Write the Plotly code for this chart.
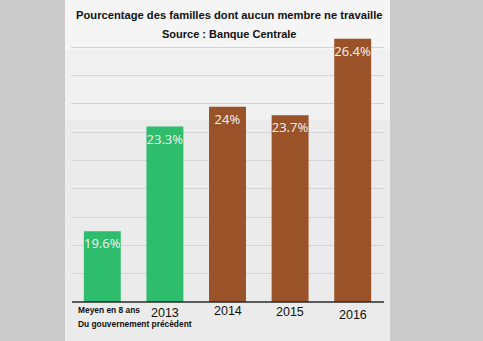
import plotly.graph_objects as go

categories = ["Meyen", "2013", "2014", "2015", "2016"]
values = [19.6, 23.3, 24.0, 23.7, 26.4]
labels = ["19.6%", "23.3%", "24%", "23.7%", "26.4%"]
colors = ["#2dbd6c", "#2dbd6c", "#9a5328", "#9a5328", "#9a5328"]
base_value = 17.1
title_line1 = "Pourcentage des familles dont aucun membre ne travaille"
title_line2 = "Source : Banque Centrale"
first_label = ["Meyen en 8 ans", "Du gouvernement précèdent"]
year_labels = ["2013", "2014", "2015", "2016"]
year_label_offsets = [11, 9, 10, 13]

fig = go.Figure()
fig.add_trace(go.Bar(
    x=categories,
    y=[v - base_value for v in values],
    base=base_value,
    marker=dict(color=colors, line=dict(width=0)),
    text=labels,
    textposition="inside",
    insidetextanchor="end",
    textangle=0,
    textfont=dict(family="Open Sans, Liberation Sans, sans-serif", size=13, color="#f4f4f4"),
    cliponaxis=False,
    hoverinfo="skip",
))

W, H = 483, 341
L, R, T, B = 71, 99, 30, 39
pw, ph = W - L - R, H - T - B

def px_x(p):
    return (p - L) / pw

def px_y(p):
    return (H - B - p) / ph

shapes = [
    dict(type="rect", xref="paper", yref="paper", x0=px_x(65), x1=px_x(390),
         y0=px_y(341), y1=px_y(0), fillcolor="#ebebeb", line=dict(width=0), layer="below"),
    dict(type="rect", xref="paper", yref="paper", x0=px_x(65), x1=px_x(390),
         y0=px_y(120), y1=px_y(0), fillcolor="#f0f0f0", line=dict(width=0), layer="below"),
    dict(type="rect", xref="paper", yref="paper", x0=px_x(65), x1=px_x(390),
         y0=px_y(50), y1=px_y(0), fillcolor="#f5f5f5", line=dict(width=0), layer="below"),
    dict(type="line", xref="paper", yref="paper", x0=px_x(72), x1=px_x(384),
         y0=0, y1=0, line=dict(color="#2a2a2a", width=1.5)),
]

annotations = [
    dict(text="<b>" + title_line1 + "</b>", xref="paper", yref="paper",
         x=px_x(229), y=px_y(15), showarrow=False, xanchor="center", yanchor="middle",
         font=dict(family="Liberation Sans, Arial, sans-serif", size=11.2, color="#111")),
    dict(text="<b>" + title_line2 + "</b>", xref="paper", yref="paper",
         x=px_x(229), y=px_y(34), showarrow=False, xanchor="center", yanchor="middle",
         font=dict(family="Liberation Sans, Arial, sans-serif", size=11, color="#111")),
    dict(text="<b>" + first_label[0] + "</b>", xref="paper", yref="paper",
         x=px_x(76), y=px_y(310), showarrow=False, xanchor="left", yanchor="middle",
         font=dict(family="Liberation Sans, Arial, sans-serif", size=8.4, color="#111")),
    dict(text="<b>" + first_label[1] + "</b>", xref="paper", yref="paper",
         x=px_x(76), y=px_y(324), showarrow=False, xanchor="left", yanchor="middle",
         font=dict(family="Liberation Sans, Arial, sans-serif", size=8.4, color="#111")),
]
for cat, off in zip(year_labels, year_label_offsets):
    annotations.append(dict(
        text=cat, xref="x", yref="paper", x=categories.index(cat), y=px_y(302 + off),
        showarrow=False, xanchor="center", yanchor="middle",
        font=dict(family="Liberation Sans, Arial, sans-serif", size=12.5, color="#111")))

fig.update_layout(
    width=W, height=H,
    margin=dict(l=L, r=R, t=T, b=B),
    paper_bgcolor="#cbcbcb",
    plot_bgcolor="rgba(0,0,0,0)",
    bargap=0.41,
    showlegend=False,
    shapes=shapes,
    annotations=annotations,
    uniformtext=dict(minsize=13, mode="show"),
    xaxis=dict(type="category", showticklabels=False, showline=False, showgrid=False,
               zeroline=False, ticks="", range=[-0.5, 4.5]),
    yaxis=dict(range=[base_value, base_value + ph / 28.3], tick0=base_value, dtick=1,
               showticklabels=False, showgrid=True, gridcolor="#d4d4d4", gridwidth=1,
               zeroline=False, showline=False, ticks=""),
)

fig.write_html("out.html")
